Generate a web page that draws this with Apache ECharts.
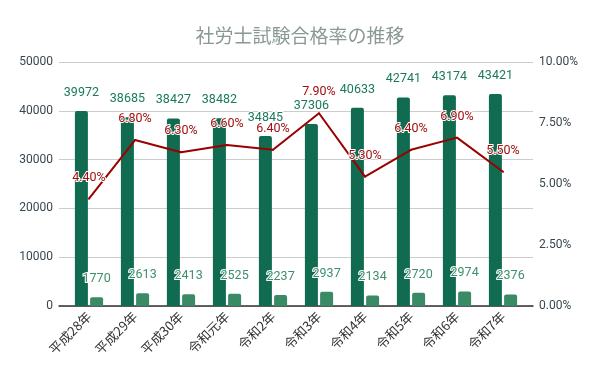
<!DOCTYPE html>
<html><head><meta charset="utf-8">
<script src="https://cdn.jsdelivr.net/npm/echarts@6/dist/echarts.min.js"></script>
<style>html,body{margin:0;padding:0;background:#fff}#c{width:600px;height:371px}</style>
</head><body><div id="c"></div>
<script>
const categories = ['平成28年','平成29年','平成30年','令和元年','令和2年','令和3年','令和4年','令和5年','令和6年','令和7年'];
const applicants = [39972,38685,38427,38482,34845,37306,40633,42741,43174,43421];
const passers = [1770,2613,2413,2525,2237,2937,2134,2720,2974,2376];
const passRate = [4.4,6.8,6.3,6.6,6.4,7.9,5.3,6.4,6.9,5.5];
const leftTicks = [0,10000,20000,30000,40000,50000];
const rightTicks = [0,2.5,5,7.5,10];

const font = 'Roboto, "Noto Sans CJK JP", sans-serif';
const chart = echarts.init(document.getElementById('c'));
const T = 62, B = 65;
chart.setOption({
  animation: false,
  title: {text: '社労士試験合格率の推移', left: 'center', top: 21,
    textStyle: {fontSize: 19, fontWeight: 'normal', color: '#8a9994', fontFamily: '"Noto Sans CJK JP", sans-serif'}},
  grid: [
    {left: 59, right: 67, top: T, bottom: B},
    {left: 66, right: 74, top: T, bottom: B}
  ],
  xAxis: [
    {type: 'category', gridIndex: 0, data: categories, axisLine: {lineStyle: {color: '#333', width: 1.5}},
      axisTick: {show: false}, axisLabel: {show: false}},
    {type: 'category', gridIndex: 1, data: categories, axisLine: {show: false}, axisTick: {show: false},
      axisLabel: {rotate: 45, color: '#333', fontSize: 13, margin: 8, fontFamily: '"Noto Sans CJK JP", sans-serif'}}
  ],
  yAxis: [
    {type: 'value', gridIndex: 0, min: leftTicks[0], max: leftTicks[leftTicks.length-1], interval: 10000,
      axisLine: {show: false}, axisTick: {show: false},
      axisLabel: {color: '#37474f', fontSize: 12, fontFamily: font, margin: 6, formatter: v => String(v)},
      splitLine: {lineStyle: {color: '#cccccc'}}},
    {type: 'value', gridIndex: 0, position: 'right', min: rightTicks[0], max: rightTicks[rightTicks.length-1], interval: 2.5,
      axisLine: {show: false}, axisTick: {show: false}, splitLine: {show: false},
      axisLabel: {color: '#37474f', fontSize: 12, fontFamily: font, margin: 6, formatter: v => v.toFixed(2) + '%'}},
    {type: 'value', gridIndex: 1, min: 0, max: 50000, show: false},
    {type: 'value', gridIndex: 1, min: 0, max: 10, show: false}
  ],
  series: [
    {type: 'bar', xAxisIndex: 1, yAxisIndex: 2, data: applicants, barWidth: 13, barGap: '17%',
      itemStyle: {color: '#106b50', borderRadius: [2,2,0,0]},
      label: {show: true, position: 'top', distance: 12, color: '#1b7a59', fontSize: 12.5, fontFamily: font,
        textBorderColor: '#fff', textBorderWidth: 2}},
    {type: 'bar', xAxisIndex: 1, yAxisIndex: 2, data: passers, barWidth: 13,
      itemStyle: {color: '#3b8a66', borderRadius: [2,2,0,0]},
      label: {show: true, position: 'top', distance: 12, color: '#3f8f6c', fontSize: 12.5, fontFamily: font,
        textBorderColor: '#fff', textBorderWidth: 2}},
    {type: 'line', xAxisIndex: 1, yAxisIndex: 3, data: passRate, symbol: 'circle', symbolSize: 2, showSymbol: true,
      z: 5, itemStyle: {color: '#9b0000'},
      lineStyle: {color: '#9b0000', width: 2},
      labelLayout: {hideOverlap: false},
      label: {show: true, position: 'top', distance: 14, color: '#a10f0f', fontSize: 12.5, fontFamily: font,
        textBorderColor: '#fff', textBorderWidth: 2, formatter: p => p.value.toFixed(2) + '%'}}
  ]
});
</script></body></html>
